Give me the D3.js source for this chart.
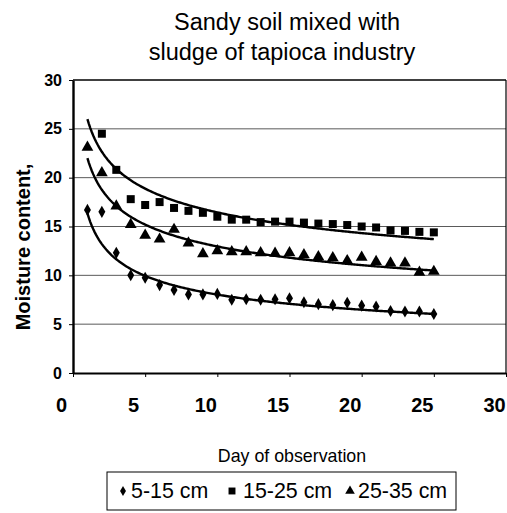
<!DOCTYPE html>
<html><head><meta charset="utf-8">
<script src="https://cdn.jsdelivr.net/npm/d3@7/dist/d3.min.js"></script>
<style>body{margin:0;background:#fff}svg{display:block}text{font-family:"Liberation Sans",Arial,sans-serif;fill:#000}</style>
</head><body><svg id="c" width="507" height="513"></svg>
<script>
const seriesNames = ["5-15 cm", "15-25 cm", "25-35 cm"];
const daysShallow = d3.range(1, 26);
const shallow = [16.7,16.5,12.3,10.0,9.75,9.0,8.5,8.05,8.05,8.1,7.5,7.55,7.5,7.55,7.65,7.25,7.05,6.95,7.2,6.9,6.8,6.35,6.3,6.3,6.05];
const daysMiddle = d3.range(2, 26);
const middle = [24.5,20.8,17.8,17.2,17.5,16.9,16.6,16.4,16.0,15.7,15.7,15.45,15.5,15.5,15.4,15.3,15.25,15.15,15.0,14.9,14.6,14.55,14.45,14.4];
const daysDeep = d3.range(1, 26);
const deep = [23.1,20.5,17.1,15.2,14.1,13.7,14.7,13.3,12.2,12.5,12.4,12.4,12.3,12.25,12.3,12.1,11.9,11.8,11.5,11.85,11.4,11.25,11.25,10.3,10.4];
// power trendlines (y = a * x^b) as drawn in the reference
const trendA = [16.35, 26.0, 22.0];
const trendB = [-0.309, -0.199, -0.23];
const trendRange = [1, 25];
const xTicks = [0,5,10,15,20,25,30];
const yTicks = [0,5,10,15,20,25,30];

const svg = d3.select("#c");
const L=73, R=506, T=80, B=373;
const x = d3.scaleLinear().domain([0,30]).range([L,R]);
const y = d3.scaleLinear().domain([0,30]).range([B,T]);
const FF = "'Liberation Sans',Arial,sans-serif";

// gridlines
svg.append("g").selectAll("line").data(yTicks.filter(v=>v>0&&v<30)).join("line")
  .attr("x1",L).attr("x2",R).attr("y1",d=>y(d)).attr("y2",d=>y(d))
  .attr("stroke","#5a5a5a").attr("stroke-width",1);

// frame
svg.append("line").attr("x1",L).attr("x2",R).attr("y1",T).attr("y2",T).attr("stroke","#000").attr("stroke-width",1.6);
svg.append("line").attr("x1",R).attr("x2",R).attr("y1",T).attr("y2",B).attr("stroke","#000").attr("stroke-width",1.2);

// axes
const xAxis = svg.append("g").attr("transform",`translate(0,${B})`)
  .call(d3.axisBottom(x).tickValues(xTicks).tickSize(4).tickSizeOuter(0).tickPadding(21));
xAxis.select(".domain").attr("stroke-width",2.2);
xAxis.selectAll("text").attr("font-size",20).attr("font-weight","bold").attr("dx",-12).style("font-family",FF);
const yAxis = svg.append("g").attr("transform",`translate(${L},0)`)
  .call(d3.axisLeft(y).tickValues(yTicks).tickSize(4).tickSizeOuter(0).tickPadding(7));
yAxis.select(".domain").attr("stroke-width",2.4);
yAxis.selectAll("text").attr("font-size",16).attr("font-weight","bold").style("font-family",FF);

// trendlines
const line = d3.line().x(d=>x(d[0])).y(d=>y(d[1]));
trendA.forEach((a,i)=>{
  const pts = d3.range(trendRange[0], trendRange[1]+0.001, 0.1).map(t=>[t, a*Math.pow(t, trendB[i])]);
  svg.append("path").datum(pts).attr("d",line).attr("fill","none").attr("stroke","#000").attr("stroke-width",2.4);
});

// markers
const sym = [d3.symbolDiamond, d3.symbolSquare, d3.symbolTriangle];
const sizes = [42, 64, 60];
const data = [
  daysShallow.map((d,i)=>[d, shallow[i]]),
  daysMiddle.map((d,i)=>[d, middle[i]]),
  daysDeep.map((d,i)=>[d, deep[i]])
];
data.forEach((s,i)=>{
  svg.append("g").selectAll("path").data(s).join("path")
    .attr("transform",d=>`translate(${x(d[0])},${y(d[1])})`)
    .attr("d",d3.symbol(sym[i], sizes[i])).attr("fill","#000");
});

// titles
svg.append("text").attr("x",287).attr("y",30).attr("text-anchor","middle").attr("font-size",23.5).text("Sandy soil mixed with");
svg.append("text").attr("x",282).attr("y",60).attr("text-anchor","middle").attr("font-size",23.5).text("sludge of tapioca industry");
svg.append("text").attr("transform","translate(30,247) rotate(-90)").attr("text-anchor","middle")
  .attr("font-size",20).attr("font-weight","bold").text("Moisture content,");
svg.append("text").attr("x",292).attr("y",462).attr("text-anchor","middle").attr("font-size",17.8).text("Day of observation");

// legend
svg.append("rect").attr("x",107).attr("y",472).attr("width",349).attr("height",38)
  .attr("fill","none").attr("stroke","#000").attr("stroke-width",1);
const legX = [123, 232, 350];
const legSizes = [30, 48, 40];
seriesNames.forEach((n,i)=>{
  svg.append("path").attr("transform",`translate(${legX[i]},${491})`).attr("d",d3.symbol(sym[i], legSizes[i])).attr("fill","#000");
  svg.append("text").attr("x",legX[i]+(i===1?11:8)).attr("y",498).attr("font-size",21.4).text(n);
});
</script></body></html>
